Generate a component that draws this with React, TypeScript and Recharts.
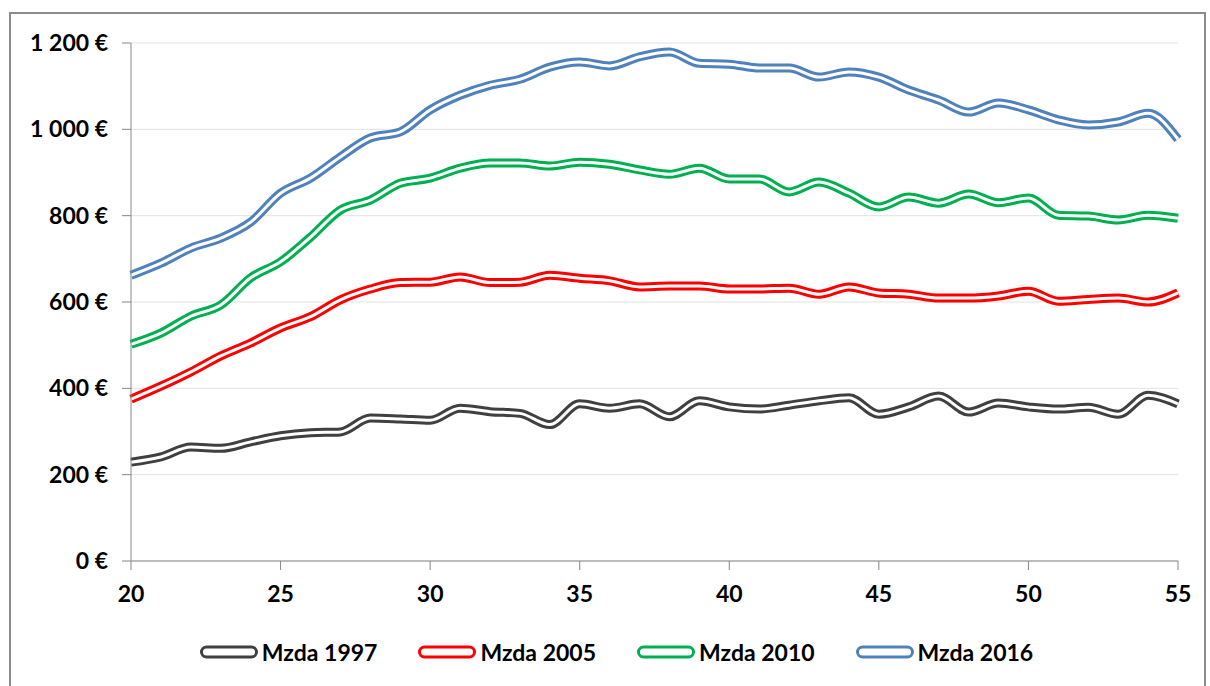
import { LineChart, Line, XAxis, YAxis, CartesianGrid, Legend } from 'recharts';

const ages = [
  20, 21, 22, 23, 24, 25, 26, 27, 28, 29, 30, 31, 32, 33, 34, 35, 36, 37,
  38, 39, 40, 41, 42, 43, 44, 45, 46, 47, 48, 49, 50, 51, 52, 53, 54, 55,
];

const mzda1997 = [
  229, 241, 264, 261, 276, 290, 297, 299, 331, 329, 326, 354, 346, 342, 316, 364, 354, 364,
  334, 371, 357, 352, 361, 371, 378, 340, 357, 382, 345, 366, 357, 352, 356, 340, 384, 364,
];

const mzda2005 = [
  375, 405, 438, 475, 505, 540, 566, 605, 630, 645, 646, 658, 645, 646, 662, 655, 649, 635,
  637, 637, 630, 630, 632, 618, 635, 621, 618, 609, 609, 614, 625, 602, 606, 609, 600, 621,
];

const mzda2010 = [
  502, 528, 567, 593, 656, 693, 750, 813, 836, 875, 887, 910, 922, 922, 915, 924, 919, 906,
  896, 910, 885, 885, 855, 878, 852, 820, 843, 829, 850, 830, 841, 801, 799, 790, 801, 794,
];

const mzda2016 = [
  662, 690, 725, 748, 785, 852, 887, 936, 980, 994, 1045, 1079, 1102, 1116, 1144, 1156, 1147, 1168,
  1179, 1153, 1151, 1142, 1142, 1121, 1133, 1121, 1091, 1068, 1040, 1061, 1045, 1022, 1010, 1017, 1037, 977,
];

const xTicks = [20, 25, 30, 35, 40, 45, 50, 55];
const yTicks = [0, 200, 400, 600, 800, 1000, 1200];

const series = [
  { key: 'm1997', name: 'Mzda 1997', color: '#404040' },
  { key: 'm2005', name: 'Mzda 2005', color: '#ff0000' },
  { key: 'm2010', name: 'Mzda 2010', color: '#00b050' },
  { key: 'm2016', name: 'Mzda 2016', color: '#4f81bd' },
];

const data = ages.map((age, i) => ({
  age,
  m1997: mzda1997[i],
  m2005: mzda2005[i],
  m2010: mzda2010[i],
  m2016: mzda2016[i],
}));

const fontFamily = 'Lato, "Open Sans", sans-serif';

const formatEuro = (v: number) =>
  String(v).replace(/\B(?=(\d{3})+(?!\d))/g, ' ') + ' €';

function LegendContent() {
  return (
    <div style={{ display: 'flex', justifyContent: 'center', gap: 40, fontFamily }}>
      {series.map((s) => (
        <div key={s.key} style={{ display: 'flex', alignItems: 'center' }}>
          <svg width={60} height={16} style={{ marginRight: 3 }}>
            <rect x={2.5} y={3} width={55} height={10} rx={5} fill="#fff" stroke={s.color} strokeWidth={3} />
          </svg>
          <span style={{ fontSize: 23, fontWeight: 700, color: '#000' }}>{s.name}</span>
        </div>
      ))}
    </div>
  );
}

export default function App() {
  return (
    <div style={{ position: 'absolute', left: 0, top: 0, width: 1210, height: 686, background: '#fff' }}>
      <div
        style={{
          position: 'absolute',
          left: 9,
          top: 12,
          width: 1197,
          height: 676,
          border: '2px solid #8c8c8c',
          boxSizing: 'border-box',
        }}
      />
      <div style={{ position: 'absolute', left: 0, top: 0 }}>
        <LineChart width={1210} height={686} data={data} margin={{ top: 43, right: 32, bottom: 80, left: 0 }}>
          <CartesianGrid vertical={false} stroke="#e3e3e3" strokeWidth={1} />
          <XAxis
            dataKey="age"
            type="number"
            domain={[20, 55]}
            ticks={xTicks}
            height={45}
            stroke="#888"
            tickSize={9}
            tickMargin={16}
            tick={{ fill: '#000', fontSize: 23, fontWeight: 700, fontFamily }}
          />
          <YAxis
            domain={[0, 1200]}
            ticks={yTicks}
            width={131}
            stroke="#888"
            tickSize={9}
            tickMargin={14}
            tickFormatter={formatEuro}
            tick={{ fill: '#000', fontSize: 23, fontWeight: 700, fontFamily }}
          />
          {series.map((s) => (
            <Line
              key={s.key}
              type="monotone"
              dataKey={s.key}
              name={s.name}
              stroke={s.color}
              strokeWidth={9}
              dot={false}
              activeDot={false}
              isAnimationActive={false}
            />
          ))}
          {series.map((s) => (
            <Line
              key={s.key + '-inner'}
              type="monotone"
              dataKey={s.key}
              stroke="#fff"
              strokeWidth={3}
              dot={false}
              activeDot={false}
              legendType="none"
              isAnimationActive={false}
            />
          ))}
          <Legend
            layout="horizontal"
            verticalAlign="middle"
            align="center"
            content={LegendContent}
            wrapperStyle={{ top: 638, left: 11, width: 1210 }}
          />
        </LineChart>
      </div>
    </div>
  );
}
